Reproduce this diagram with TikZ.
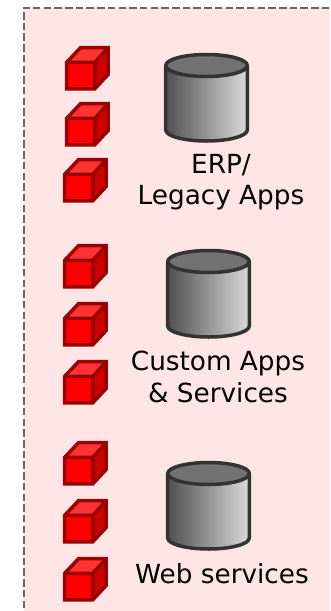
\documentclass[tikz,border=0pt]{standalone}
\usepackage{fontspec}
\setmainfont{DejaVu Sans}
\definecolor{bgpink}{HTML}{FFE5E5}
\definecolor{dashgray}{HTML}{666666}
\definecolor{cubeedge}{HTML}{990000}
\definecolor{cubefront}{HTML}{FF0000}
\definecolor{cubetop}{HTML}{FF3333}
\definecolor{cubeside}{HTML}{CC0000}
\definecolor{cyledge}{HTML}{333333}
\definecolor{cyltop}{HTML}{727272}
\definecolor{cylleft}{HTML}{505050}
\definecolor{cylmid}{HTML}{ACACAC}
\definecolor{cylright}{HTML}{DADADA}
\tikzset{
  x=1pt,y=-1pt,
  cubeline/.style={draw=cubeedge,line width=3.5pt,line join=miter},
  cylline/.style={draw=cyledge,line width=3.5pt,line join=round},
  lbl/.style={font=\fontsize{26.3}{31.5}\selectfont,text=black,align=center,inner sep=0pt},
}
\newcommand{\redcube}[2]{%
  \begin{scope}[shift={(#1,#2)}]
    \fill[cubefront] (1.7,16.3) rectangle (29.8,42.8);
    \fill[cubetop] (1.7,16.3) -- (15.5,1.7) -- (43.2,1.7) -- (29.8,16.3) -- cycle;
    \fill[cubeside] (29.8,16.3) -- (43.2,1.7) -- (43.2,28.5) -- (29.8,42.8) -- cycle;
    \draw[cubeline] (1.7,16.3) -- (29.8,16.3) -- (43.2,1.7) (29.8,16.3) -- (29.8,42.8);
    \draw[cubeline] (1.7,16.3) -- (15.5,1.7) -- (43.2,1.7) -- (43.2,28.5) -- (29.8,42.8) -- (1.7,42.8) -- cycle;
  \end{scope}}
\newcommand{\dbcyl}[2]{%
  \begin{scope}[shift={(#1,#2)}]
    \shade[left color=cylleft,middle color=cylmid,right color=cylright]
      (1.7,12.5) -- (1.7,77) arc[start angle=180,end angle=0,x radius=40.8,y radius=11] -- (83.3,12.5) -- cycle;
    \draw[cylline] (1.7,12.5) -- (1.7,77) arc[start angle=180,end angle=0,x radius=40.8,y radius=11] -- (83.3,12.5);
    \draw[cylline,fill=cyltop] (42.5,12.5) ellipse[x radius=40.8,y radius=11];
  \end{scope}}
\begin{document}
\begin{tikzpicture}
\useasboundingbox (0,0) rectangle (330,611);
\fill[bgpink] (23.5,7.5) rectangle (330,611);
\draw[dashgray,line width=2pt,dash pattern=on 7.5pt off 3.2pt] (23.5,608) -- (23.5,7.5) -- (330,7.5);
\redcube{65}{46}
\redcube{65}{102}
\redcube{63}{158}
\redcube{63}{244}
\redcube{63}{302}
\redcube{63}{360}
\redcube{63}{441}
\redcube{63}{499}
\redcube{63}{557}
\dbcyl{164}{53}
\dbcyl{166}{249}
\dbcyl{166}{461}
\node[lbl] (erp) at (221,182) {ERP/\\Legacy Apps};
\node[lbl] (custom) at (218,377) {Custom Apps\\\& Services};
\node[lbl] (web) at (222,574) {Web services};
\end{tikzpicture}
\end{document}
